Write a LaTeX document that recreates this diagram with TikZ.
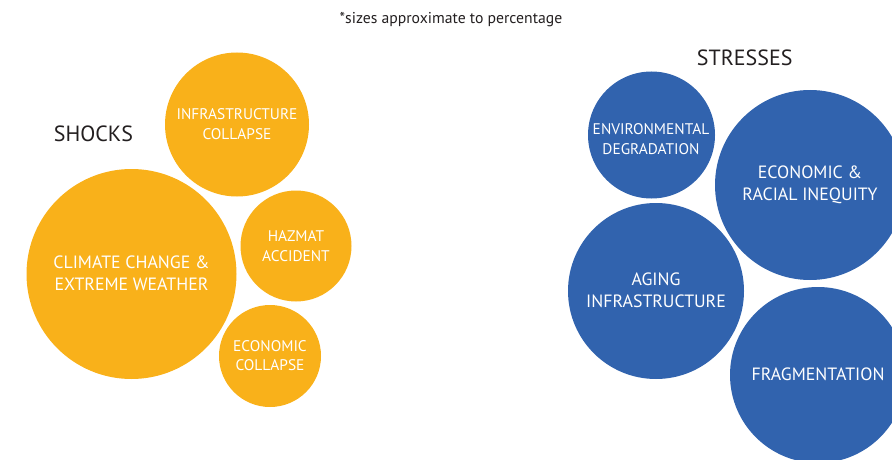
\documentclass[tikz,border=0pt]{standalone}
\usepackage{fontspec}
\setmainfont{PT Sans}
\definecolor{shockorange}{RGB}{249,177,26}
\definecolor{stressblue}{RGB}{49,99,174}
\definecolor{inkdark}{RGB}{35,31,32}
\begin{document}
\begin{tikzpicture}[x=1pt,y=-1pt,
  bubble/.style={circle,inner sep=0pt,minimum size=#1},
  shock/.style={fill=shockorange},
  stress/.style={fill=stressblue},
  lab/.style={text=white,align=center,inner sep=0pt},
  biglab/.style={lab,font=\fontsize{17.8}{22.5}\selectfont},
  smalllab/.style={lab,font=\fontsize{15.4}{19.5}\selectfont},
  heading/.style={text=inkdark,inner sep=0pt,font=\fontsize{22}{26}\selectfont}]
\useasboundingbox (0,0) rectangle (892,460);
\clip (0,0) rectangle (892,460);
% shocks
\node[bubble=210pt,shock] (climate) at (131.5,274) {};
\node[bubble=144pt,shock] (infra) at (237,124.5) {};
\node[bubble=111pt,shock] (hazmat) at (296,246) {};
\node[bubble=102pt,shock] (econ) at (270,356) {};
% stresses
\node[bubble=127pt,stress] (env) at (651.5,135) {};
\node[bubble=190pt,stress] (inequity) at (810,185) {};
\node[bubble=176pt,stress] (aging) at (656,291) {};
\node[bubble=176pt,stress] (frag) at (818,375) {};
% labels
\node[biglab] (climatelab) at (131.5,273.5) {CLIMATE CHANGE \&\\EXTREME WEATHER};
\node[smalllab] (infralab) at (237,124) {INFRASTRUCTURE\\COLLAPSE};
\node[smalllab] (hazmatlab) at (296,246) {HAZMAT\\ACCIDENT};
\node[smalllab,font=\fontsize{15.4}{18.5}\selectfont] (econlab) at (270,355.5) {ECONOMIC\\COLLAPSE};
\node[smalllab] (envlab) at (651,139) {ENVIRONMENTAL\\DEGRADATION};
\node[biglab,font=\fontsize{17.8}{22}\selectfont] (inequitylab) at (810,184.5) {ECONOMIC \&\\RACIAL INEQUITY};
\node[biglab] (aginglab) at (656,290.5) {AGING\\INFRASTRUCTURE};
\node[biglab] (fraglab) at (818,374) {FRAGMENTATION};
% headings
\node[heading] (shocks) at (93.5,134) {SHOCKS};
\node[heading] (stresses) at (744.7,58) {STRESSES};
\node[text=inkdark,inner sep=0pt,font=\fontsize{15.7}{18}\selectfont] (note) at (451,20) {*sizes approximate to percentage};
\end{tikzpicture}
\end{document}
